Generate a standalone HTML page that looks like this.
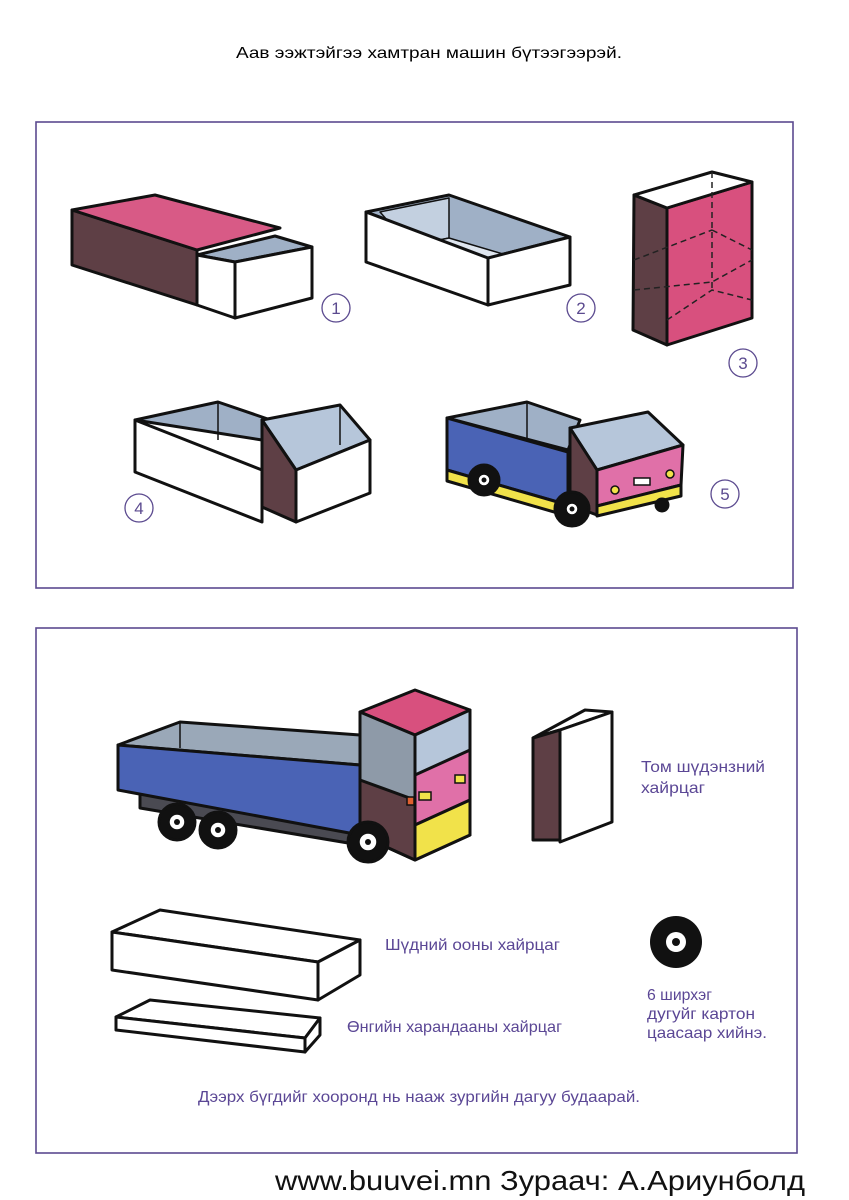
<!DOCTYPE html>
<html><head><meta charset="utf-8"><style>
html,body{margin:0;padding:0;background:#fff;}
svg{display:block;}
text{font-family:"Liberation Sans",sans-serif;}
.l{fill:#5b4795;font-size:16px;}
</style></head><body>
<svg width="849" height="1200" viewBox="0 0 849 1200">
<text x="236" y="58" font-size="16" textLength="386" lengthAdjust="spacingAndGlyphs" fill="#000">Аав ээжтэйгээ хамтран машин бүтээгээрэй.</text>
<rect x="36" y="122" width="757" height="466" fill="none" stroke="#5b4a8f" stroke-width="1.6"/>
<rect x="36" y="628" width="761" height="525" fill="none" stroke="#5b4a8f" stroke-width="1.6"/>
<g stroke="#111" stroke-width="3" stroke-linejoin="round">
<!-- 1 -->
<polygon points="72,210 197,250 197,305 72,265" fill="#5e3f45"/>
<polygon points="72,210 155,195 280,228 197,250" fill="#d85a86"/>
<polygon points="197,255 275,236 312,247 235,262" fill="#9fb0c6"/>
<polygon points="197,255 235,262 235,318 197,305" fill="#fff"/>
<polygon points="235,262 312,247 312,298 235,318" fill="#fff"/>
<!-- 2 -->
<polygon points="366,212 449,195 570,237 488,258" fill="#9fb0c6"/>
<polygon points="380,212 449,198 449,238 410,246" fill="#c3d0e0" stroke-width="1.5"/>
<polygon points="449,238 530,262 520,262 410,246" fill="#dfe6ef" stroke-width="1.5"/>
<polygon points="366,212 488,258 488,305 366,262" fill="#fff"/>
<polygon points="488,258 570,237 570,285 488,305" fill="#fff"/>
<!-- 3 -->
<polygon points="634,195 667,208 667,345 633,330" fill="#5e3f45"/>
<polygon points="667,208 752,182 752,318 667,345" fill="#d8507e"/>
<polygon points="634,195 712,172 752,182 667,208" fill="#fff"/>
<!-- 4 -->
<polygon points="135,420 218,402 300,430 262,440" fill="#9fb0c6"/>
<line x1="218" y1="402" x2="218" y2="440" stroke-width="1.5"/>
<polygon points="135,420 262,470 262,522 135,472" fill="#fff"/>
<polygon points="262,420 340,405 370,440 296,470" fill="#b6c6da"/>
<line x1="340" y1="405" x2="340" y2="445" stroke-width="1.5"/>
<polygon points="262,420 296,470 296,522 262,507" fill="#5e3f45"/>
<polygon points="296,470 370,440 370,493 296,522" fill="#fff"/>
<!-- 5 -->
<polygon points="447,418 527,402 580,420 568,450" fill="#9fb0c6"/>
<line x1="527" y1="402" x2="527" y2="440" stroke-width="1.5"/>
<polygon points="447,418 568,452 568,505 447,470" fill="#4a63b5"/>
<polygon points="447,470 568,505 568,516 447,481" fill="#f1e24a"/>
<polygon points="570,428 648,412 683,445 597,470" fill="#b6c6da"/>
<polygon points="570,428 597,470 597,515 570,505" fill="#5e3f45"/>
<polygon points="597,470 683,445 681,485 597,506" fill="#e070a8"/>
<polygon points="597,506 681,485 681,496 597,516" fill="#f1e24a"/>
<circle cx="484" cy="480" r="15" fill="#111"/><circle cx="572" cy="509" r="17" fill="#111"/>
<circle cx="662" cy="505" r="6" fill="#111"/>
<!-- big truck -->
<polygon points="140,790 360,828 360,845 140,808" fill="#4a4a52"/>
<polygon points="118,745 180,722 360,735 360,765" fill="#9aa8b8"/>
<line x1="180" y1="722" x2="180" y2="748" stroke-width="1.5"/>
<polygon points="118,745 360,765 360,835 118,790" fill="#4a63b5"/>
<polygon points="360,712 415,690 470,710 415,735" fill="#d8507e"/>
<polygon points="360,712 415,735 415,860 360,835" fill="#8e9aa8"/>
<polygon points="360,780 415,800 415,860 360,835" fill="#5e3f45"/>
<polygon points="415,735 470,710 470,835 415,860" fill="#b6c6da"/>
<polygon points="415,775 470,750 470,800 415,825" fill="#e070a8"/>
<polygon points="415,825 470,800 470,835 415,860" fill="#f1e24a"/>
<circle cx="177" cy="822" r="18" fill="#111"/><circle cx="218" cy="830" r="18" fill="#111"/><circle cx="368" cy="842" r="20" fill="#111"/>
<!-- standing box -->
<polygon points="533,738 585,710 612,712 560,730" fill="#fff"/>
<polygon points="533,738 560,730 560,840 533,840" fill="#5e3f45"/>
<polygon points="560,730 612,712 612,822 560,842" fill="#fff"/>
<!-- long box -->
<polygon points="112,932 160,910 360,940 318,962" fill="#fff"/>
<polygon points="112,932 318,962 318,1000 112,970" fill="#fff"/>
<polygon points="318,962 360,940 360,975 318,1000" fill="#fff"/>
<!-- flat box -->
<polygon points="116,1017 150,1000 320,1018 305,1038" fill="#fff"/>
<polygon points="116,1017 305,1038 305,1052 116,1030" fill="#fff"/>
<polygon points="305,1038 320,1018 320,1035 305,1052" fill="#fff"/>
</g>
<g stroke="#222" stroke-width="1.5" stroke-dasharray="6,4" fill="none">
<polyline points="634,290 712,282 752,260"/><polyline points="667,320 712,290 752,300"/><line x1="712" y1="172" x2="712" y2="290"/><line x1="634" y1="260" x2="712" y2="230"/><line x1="712" y1="230" x2="752" y2="250"/>
</g>
<g fill="#fff" stroke="#111" stroke-width="1.5">
<circle cx="484" cy="480" r="6"/><circle cx="572" cy="509" r="6"/>
<circle cx="177" cy="822" r="8"/><circle cx="218" cy="830" r="8"/><circle cx="368" cy="842" r="9"/>
</g>
<g fill="#111"><circle cx="484" cy="480" r="2.5"/><circle cx="572" cy="509" r="2.5"/><circle cx="177" cy="822" r="3"/><circle cx="218" cy="830" r="3"/><circle cx="368" cy="842" r="3"/></g>
<g stroke="#111" stroke-width="1.5">
<circle cx="615" cy="490" r="4" fill="#f1e24a"/><circle cx="670" cy="474" r="4" fill="#f1e24a"/>
<rect x="634" y="478" width="16" height="7" fill="#fff"/>
<rect x="419" y="792" width="12" height="8" fill="#f1e24a"/><rect x="455" y="775" width="10" height="8" fill="#f1e24a"/>
<rect x="407" y="797" width="7" height="8" fill="#e06030"/>
</g>
<circle cx="676" cy="942" r="26" fill="#111"/><circle cx="676" cy="942" r="10" fill="#fff"/><circle cx="676" cy="942" r="4" fill="#111"/>
<g fill="#fff" stroke="#5b4a8f" stroke-width="1.3">
<circle cx="336" cy="308" r="14"/><circle cx="581" cy="308" r="14"/><circle cx="743" cy="363" r="14"/><circle cx="139" cy="508" r="14"/><circle cx="725" cy="494" r="14"/>
</g>
<g fill="#5b4a8f" font-size="17" text-anchor="middle">
<text x="336" y="314">1</text><text x="581" y="314">2</text><text x="743" y="369">3</text><text x="139" y="514">4</text><text x="725" y="500">5</text>
</g>
<text class="l" x="641" y="772" textLength="124" lengthAdjust="spacingAndGlyphs">Том шүдэнзний</text>
<text class="l" x="641" y="793" textLength="64" lengthAdjust="spacingAndGlyphs">хайрцаг</text>
<text class="l" x="385" y="950" textLength="175" lengthAdjust="spacingAndGlyphs">Шүдний ооны хайрцаг</text>
<text class="l" x="347" y="1032" textLength="215" lengthAdjust="spacingAndGlyphs">Өнгийн харандааны хайрцаг</text>
<text class="l" x="647" y="1000" textLength="65" lengthAdjust="spacingAndGlyphs">6 ширхэг</text>
<text class="l" x="647" y="1019" textLength="108" lengthAdjust="spacingAndGlyphs">дугуйг картон</text>
<text class="l" x="647" y="1038" textLength="120" lengthAdjust="spacingAndGlyphs">цаасаар хийнэ.</text>
<text class="l" x="198" y="1102" textLength="442" lengthAdjust="spacingAndGlyphs">Дээрх бүгдийг хооронд нь нааж зургийн дагуу будаарай.</text>
<text x="275" y="1190" font-size="28" textLength="530" lengthAdjust="spacingAndGlyphs" fill="#111">www.buuvei.mn  Зураач: А.Ариунболд</text>
</svg>
</body></html>
